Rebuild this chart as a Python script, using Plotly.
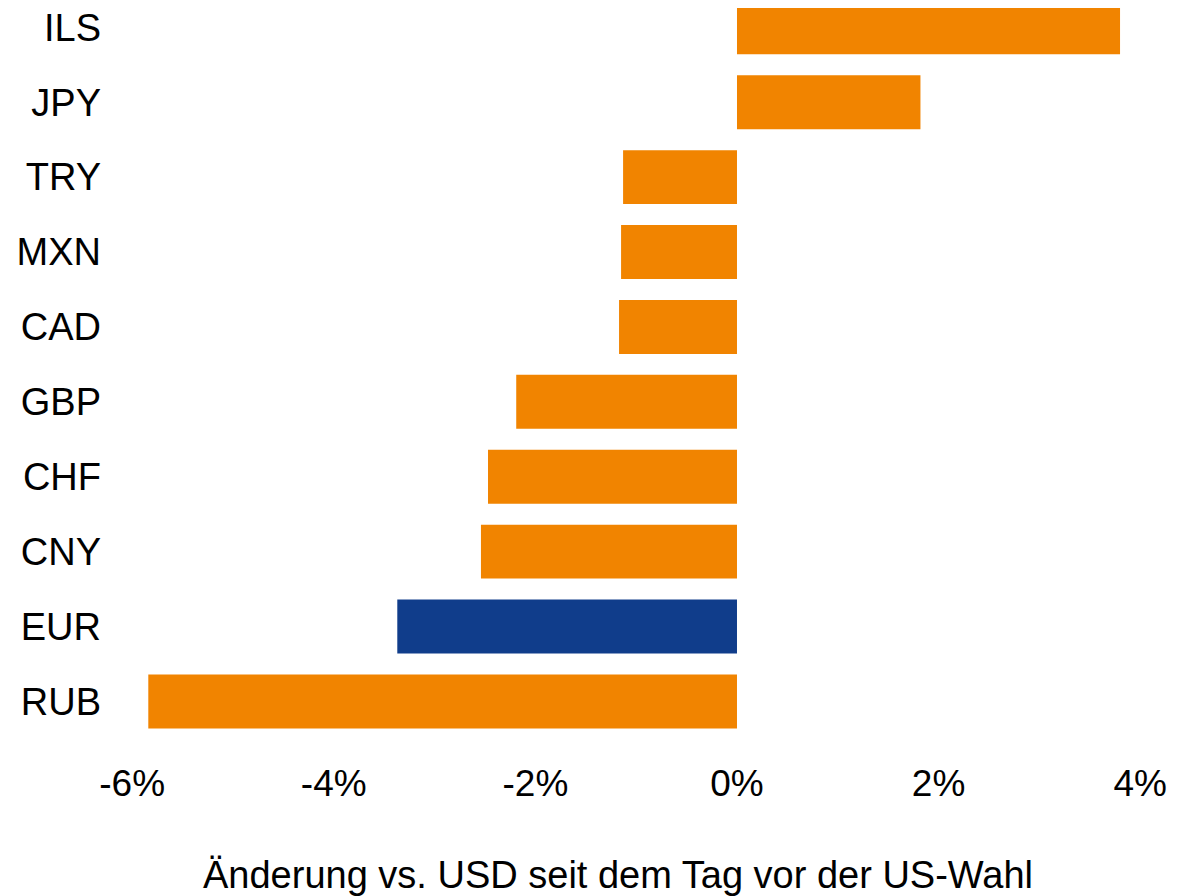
import plotly.graph_objects as go

currencies = ["RUB", "EUR", "CNY", "CHF", "GBP", "CAD", "MXN", "TRY", "JPY", "ILS"]
changes = [-5.84, -3.37, -2.54, -2.47, -2.19, -1.17, -1.15, -1.13, 1.82, 3.80]
highlight = "EUR"

ORANGE = "#F18400"
BLUE = "#103D8B"
colors = [BLUE if c == highlight else ORANGE for c in currencies]

tick_vals = [-6, -4, -2, 0, 2, 4]
tick_text = ["-6%", "-4%", "-2%", "0%", "2%", "4%"]
x_title = "Änderung vs. USD seit dem Tag vor der US-Wahl"

fig = go.Figure(go.Bar(
    x=changes, y=currencies, orientation="h",
    marker=dict(color=colors, line=dict(width=0)),
))

FONT = "Liberation Sans, Arial, sans-serif"
fig.update_layout(
    width=1190, height=888,
    margin=dict(l=102, r=20, t=0, b=138),
    plot_bgcolor="white", paper_bgcolor="white",
    bargap=0.28,
    showlegend=False,
    font=dict(family=FONT, size=37, color="black"),
    annotations=[dict(
        text=x_title, xref="paper", yref="paper",
        x=0.4752, y=-0.156, xanchor="center", yanchor="middle",
        showarrow=False, font=dict(size=38, color="black"),
    )],
)
fig.update_xaxes(
    range=[-6.22, 4.375],
    tickvals=tick_vals, ticktext=tick_text,
    showgrid=False, zeroline=False, showline=False, ticks="",
    tickfont=dict(size=37, color="black"),
)
fig.update_yaxes(
    range=[-0.755, 9.258],
    showgrid=False, zeroline=False, showline=False, ticks="",
    tickfont=dict(size=38, color="black"),
    ticklabelstandoff=8,
)

fig.write_html("out.html")
